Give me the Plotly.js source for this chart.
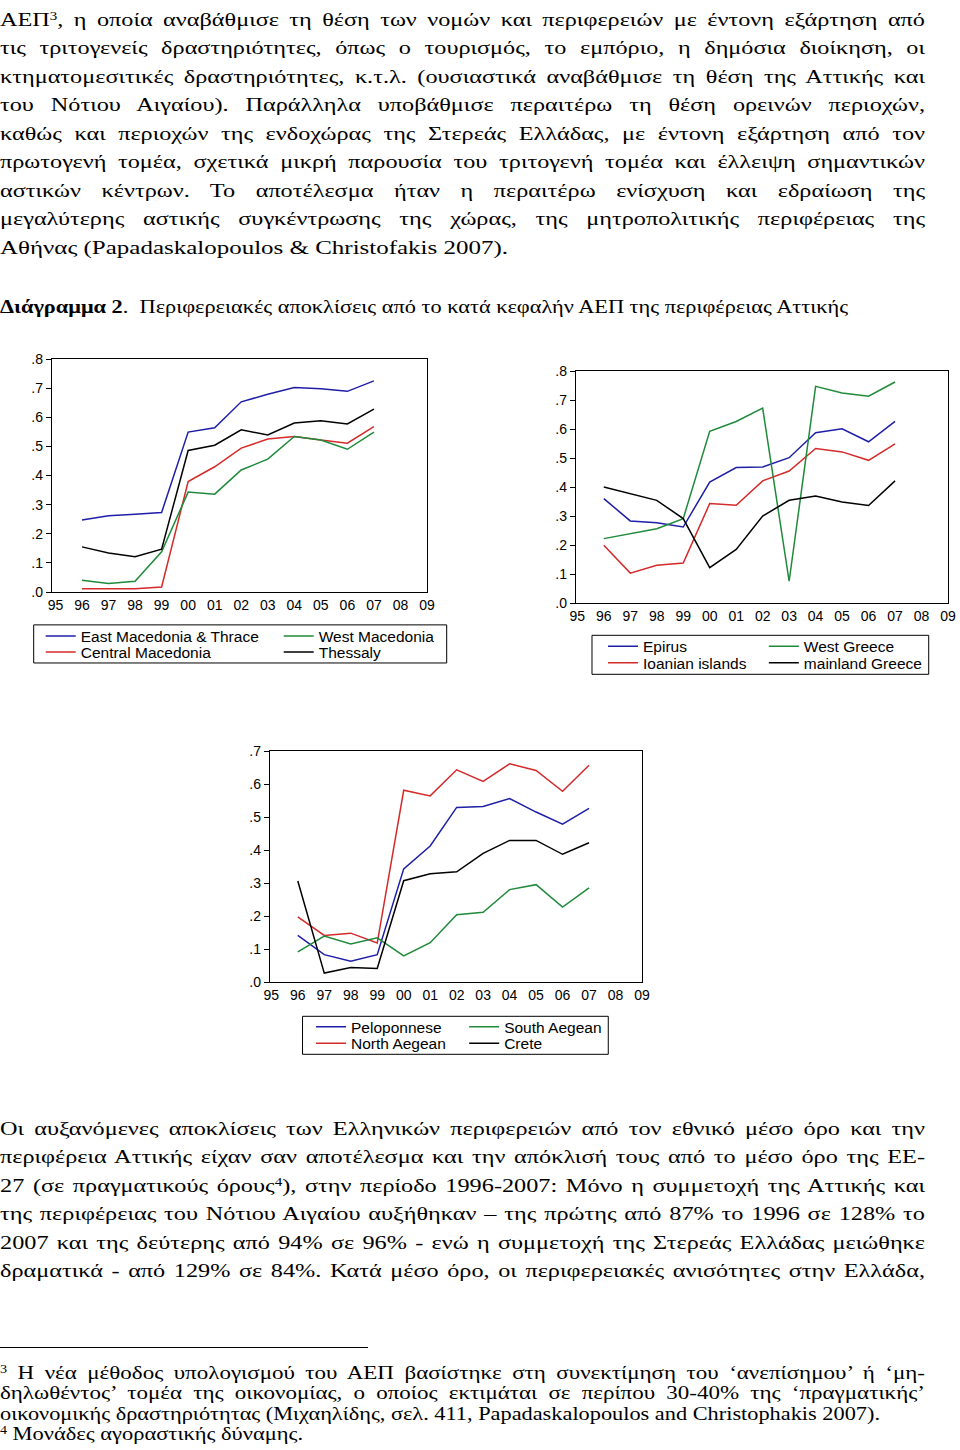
<!DOCTYPE html>
<html>
<head>
<meta charset="utf-8">
<script src="https://cdn.plot.ly/plotly-3.0.1.min.js"></script>
<style>
  html, body { margin:0; padding:0; background:#fff; }
  #page { position:relative; width:960px; height:1450px; overflow:hidden; background:#fff; }
  .ln { position:absolute; left:0; white-space:nowrap; font-family:"Liberation Serif", "Times New Roman", serif; line-height:normal; color:#000; }
  .ln span.in { display:inline-block; transform-origin:0 0; }
  .ln sup { font-size:0.62em; line-height:0; vertical-align:0.5em; }
  .chart { position:absolute; }
</style>
</head>
<body>
<div id="page">
  <div id="c1" class="chart"></div>
  <div id="c2" class="chart"></div>
  <div id="c3" class="chart"></div>
  <div id="rule" style="position:absolute;left:0;top:1347px;width:368px;height:1.3px;background:#000;"></div>
</div>
<script>
// ---------------- DATA ----------------
const years = [1996, 1997, 1998, 1999, 2000, 2001, 2002, 2003, 2004, 2005, 2006, 2007];
const xTickVals = [1995, 1996, 1997, 1998, 1999, 2000, 2001, 2002, 2003, 2004, 2005, 2006, 2007, 2008, 2009];
const xTickText = ["95", "96", "97", "98", "99", "00", "01", "02", "03", "04", "05", "06", "07", "08", "09"];

// Chart 1
const eastMacThrace = [0.247, 0.262, 0.267, 0.273, 0.549, 0.564, 0.653, 0.679, 0.702, 0.698, 0.689, 0.725];
const westMacedonia = [0.040, 0.029, 0.037, 0.138, 0.343, 0.336, 0.419, 0.456, 0.534, 0.522, 0.490, 0.549];
const centralMacedonia = [0.011, 0.011, 0.011, 0.017, 0.379, 0.430, 0.494, 0.525, 0.534, 0.522, 0.511, 0.568];
const thessaly = [0.155, 0.134, 0.121, 0.147, 0.486, 0.504, 0.557, 0.539, 0.580, 0.588, 0.577, 0.628];

// Chart 2
const epirus = [0.360, 0.283, 0.277, 0.262, 0.417, 0.467, 0.469, 0.501, 0.587, 0.601, 0.556, 0.626];
const westGreece = [0.222, 0.239, 0.256, 0.291, 0.592, 0.626, 0.672, 0.075, 0.747, 0.724, 0.713, 0.762];
const ionianIslands = [0.199, 0.103, 0.130, 0.138, 0.343, 0.337, 0.421, 0.455, 0.533, 0.521, 0.492, 0.549];
const mainlandGreece = [0.400, 0.377, 0.354, 0.291, 0.122, 0.185, 0.300, 0.354, 0.369, 0.348, 0.336, 0.421];

// Chart 3
const peloponnese = [0.141, 0.083, 0.063, 0.083, 0.343, 0.412, 0.529, 0.532, 0.556, 0.515, 0.478, 0.526];
const southAegean = [0.091, 0.139, 0.115, 0.134, 0.079, 0.119, 0.204, 0.211, 0.280, 0.295, 0.227, 0.285];
const northAegean = [0.197, 0.141, 0.148, 0.118, 0.581, 0.564, 0.643, 0.608, 0.661, 0.641, 0.578, 0.657];
const crete = [0.306, 0.027, 0.044, 0.041, 0.307, 0.328, 0.334, 0.390, 0.429, 0.429, 0.387, 0.422];

const yTicks8 = [0, 0.1, 0.2, 0.3, 0.4, 0.5, 0.6, 0.7, 0.8];
const yTickText8 = [".0", ".1", ".2", ".3", ".4", ".5", ".6", ".7", ".8"];
const yTicks7 = [0, 0.1, 0.2, 0.3, 0.4, 0.5, 0.6, 0.7];
const yTickText7 = [".0", ".1", ".2", ".3", ".4", ".5", ".6", ".7"];

// ---------------- TEXT ----------------
// cal: natural-width line used to calibrate the glyph widening of justified lines
const textLines = [
  {t:'ΑΕΠ<sup>3</sup>, η οποία αναβάθμισε τη θέση των νομών και περιφερειών με έντονη εξάρτηση από', y:26, fs:19.5, w:925, j:true},
  {t:'τις τριτογενείς δραστηριότητες, όπως ο τουρισμός, το εμπόριο, η δημόσια διοίκηση, οι', y:54.5, fs:19.5, w:925, j:true},
  {t:'κτηματομεσιτικές δραστηριότητες, κ.τ.λ. (ουσιαστικά αναβάθμισε τη θέση της Αττικής και', y:83, fs:19.5, w:925, j:true},
  {t:'του Νότιου Αιγαίου). Παράλληλα υποβάθμισε περαιτέρω τη θέση ορεινών περιοχών,', y:111.5, fs:19.5, w:925, j:true},
  {t:'καθώς και περιοχών της ενδοχώρας της Στερεάς Ελλάδας, με έντονη εξάρτηση από τον', y:140, fs:19.5, w:925, j:true},
  {t:'πρωτογενή τομέα, σχετικά μικρή παρουσία του τριτογενή τομέα και έλλειψη σημαντικών', y:168.5, fs:19.5, w:925, j:true},
  {t:'αστικών κέντρων. Το αποτέλεσμα ήταν η περαιτέρω ενίσχυση και εδραίωση της', y:197, fs:19.5, w:925, j:true},
  {t:'μεγαλύτερης αστικής συγκέντρωσης της χώρας, της μητροπολιτικής περιφέρειας της', y:225.5, fs:19.5, w:925, j:true},
  {t:'Αθήνας (Papadaskalopoulos &amp; Christofakis 2007).', y:254, fs:19.5, w:508, j:false, cal:true},
  {t:'<b>Διάγραμμα 2</b>.&nbsp; Περιφερειακές αποκλίσεις από το κατά κεφαλήν ΑΕΠ της περιφέρειας Αττικής', y:313, fs:18.5, w:848, j:false},
  {t:'Οι αυξανόμενες αποκλίσεις των Ελληνικών περιφερειών από τον εθνικό μέσο όρο και την', y:1135, fs:19.5, w:925, j:true},
  {t:'περιφέρεια Αττικής είχαν σαν αποτέλεσμα και την απόκλισή τους από το μέσο όρο της ΕΕ-', y:1163.5, fs:19.5, w:925, j:true},
  {t:'27 (σε πραγματικούς όρους<sup>4</sup>), στην περίοδο 1996-2007: Μόνο η συμμετοχή της Αττικής και', y:1192, fs:19.5, w:925, j:true},
  {t:'της περιφέρειας του Νότιου Αιγαίου αυξήθηκαν – της πρώτης από 87% το 1996 σε 128% το', y:1220.5, fs:19.5, w:925, j:true},
  {t:'2007 και της δεύτερης από 94% σε 96% - ενώ η συμμετοχή της Στερεάς Ελλάδας μειώθηκε', y:1249, fs:19.5, w:925, j:true},
  {t:'δραματικά - από 129% σε 84%. Κατά μέσο όρο, οι περιφερειακές ανισότητες στην Ελλάδα,', y:1277.5, fs:19.5, w:925, j:true},
  {t:'<sup>3</sup> Η νέα μέθοδος υπολογισμού του ΑΕΠ βασίστηκε στη συνεκτίμηση του ‘ανεπίσημου’ ή ‘μη-', y:1379, fs:18.5, w:925, j:true},
  {t:'δηλωθέντος’ τομέα της οικονομίας, ο οποίος εκτιμάται σε περίπου 30-40% της ‘πραγματικής’', y:1399.5, fs:18.5, w:925, j:true},
  {t:'οικονομικής δραστηριότητας (Μιχαηλίδης, σελ. 411, Papadaskalopoulos and Christophakis 2007).', y:1420, fs:18.5, w:880, j:false, cal:true},
  {t:'<sup>4</sup> Μονάδες αγοραστικής δύναμης.', y:1440, fs:18.5, w:303, j:false}
];

const page = document.getElementById('page');
function makeLine(L) {
  const d = document.createElement('div');
  d.className = 'ln';
  d.style.fontSize = L.fs + 'px';
  d.style.top = (L.y - 0.891 * L.fs) + 'px';
  d.innerHTML = '<span class="in">' + L.t + '</span>';
  page.appendChild(d);
  L.sp = d.firstChild;
  L.nat = L.sp.getBoundingClientRect().width;
}
textLines.forEach(makeLine);
const cals = textLines.filter(L => L.cal).map(L => L.w / L.nat);
const s0 = cals.reduce((a, b) => a + b, 0) / cals.length;
textLines.forEach(L => {
  let s;
  if (L.j) {
    s = s0;
    const n = (L.sp.textContent.match(/ /g) || []).length;
    if (L.nat * s > L.w) { s = L.w / L.nat; }
    else if (n) { L.sp.style.wordSpacing = ((L.w / s - L.nat) / n) + 'px'; }
  } else {
    s = L.w / L.nat;
  }
  L.sp.style.transform = 'scaleX(' + s + ')';
});

// ---------------- CHARTS ----------------
const COL = {blue:'#1e1ea8', red:'#d42a2a', green:'#1f8a3a', black:'#000000'};
const SANS = '"Liberation Sans", Arial, sans-serif';

function makeChart(id, g, series, yTicks, yText, yMax, xMin, legendBox, legendPos) {
  const el = document.getElementById(id);
  el.style.left = g.left + 'px';
  el.style.top = g.top + 'px';
  el.style.width = g.W + 'px';
  el.style.height = g.H + 'px';
  const pw = g.px1 - g.px0, ph = g.py1 - g.py0;
  const PX = ax => (ax - g.px0) / pw;
  const PY = ay => (g.py1 - ay) / ph;
  const legNames = ['legend', 'legend2', 'legend3', 'legend4'];
  const traces = series.map((s, i) => ({
    type:'scatter', mode:'lines', x:years, y:s.y, name:s.name,
    line:{color:s.color, width:1.5}, legend:legNames[i], hoverinfo:'skip'
  }));
  const layout = {
    width:g.W, height:g.H,
    margin:{l:g.px0 - g.left, r:g.left + g.W - g.px1, t:g.py0 - g.top, b:g.top + g.H - g.py1, autoexpand:false},
    paper_bgcolor:'rgba(0,0,0,0)', plot_bgcolor:'#fff',
    font:{family:SANS, size:14, color:'#000'},
    xaxis:{range:[xMin, 2009], tickvals:xTickVals, ticktext:xTickText, showgrid:false, zeroline:false,
           showline:true, mirror:true, linecolor:'#000', linewidth:1.2, ticks:'', tickfont:{family:SANS, size:14}, fixedrange:true},
    yaxis:{range:[0, yMax], tickvals:yTicks, ticktext:yText, showgrid:false, zeroline:false,
           showline:true, mirror:true, linecolor:'#000', linewidth:1.2, ticks:'outside', ticklen:5, tickwidth:1,
           tickcolor:'#000', tickfont:{family:SANS, size:14}, fixedrange:true},
    showlegend:true,
    shapes:[{type:'rect', xref:'paper', yref:'paper',
             x0:PX(legendBox[0]), x1:PX(legendBox[1]), y0:PY(legendBox[3]), y1:PY(legendBox[2]),
             line:{color:'#000', width:1}, fillcolor:'rgba(0,0,0,0)'}]
  };
  legendPos.forEach((p, i) => {
    layout[legNames[i]] = {x:PX(p[0]), y:PY(p[1]), xanchor:'left', yanchor:'middle',
      bgcolor:'rgba(0,0,0,0)', borderwidth:0, font:{family:SANS, size:15.5, color:'#000'}};
  });
  Plotly.newPlot(el, traces, layout, {staticPlot:true, displayModeBar:false});
}

// Chart 1
makeChart('c1',
  {left:0, top:330, W:520, H:350, px0:52.3, px1:427.3, py0:359.3, py1:591.7},
  [{name:'East Macedonia & Thrace', y:eastMacThrace, color:COL.blue},
   {name:'Central Macedonia', y:centralMacedonia, color:COL.red},
   {name:'West Macedonia', y:westMacedonia, color:COL.green},
   {name:'Thessaly', y:thessaly, color:COL.black}],
  yTicks8, yTickText8, 0.8, 1994.87,
  [34, 447, 624.5, 662.5],
  [[41, 636], [41, 652], [279, 636], [279, 652]]
);

// Chart 2
makeChart('c2',
  {left:530, top:340, W:430, H:350, px0:576, px1:948.3, py0:370.7, py1:602.7},
  [{name:'Epirus', y:epirus, color:COL.blue},
   {name:'Ioanian islands', y:ionianIslands, color:COL.red},
   {name:'West Greece', y:westGreece, color:COL.green},
   {name:'mainland Greece', y:mainlandGreece, color:COL.black}],
  yTicks8, yTickText8, 0.8, 1994.95,
  [592, 929, 635, 674],
  [[603, 646.5], [603, 663], [764, 646.5], [764, 663]]
);

// Chart 3
makeChart('c3',
  {left:220, top:720, W:470, H:350, px0:270, px1:641.7, py0:750.7, py1:981.7},
  [{name:'Peloponnese', y:peloponnese, color:COL.blue},
   {name:'North Aegean', y:northAegean, color:COL.red},
   {name:'South Aegean', y:southAegean, color:COL.green},
   {name:'Crete', y:crete, color:COL.black}],
  yTicks7, yTickText7, 0.7, 1994.95,
  [302.5, 608, 1016, 1054],
  [[311, 1027], [311, 1043.5], [464, 1027], [464, 1043.5]]
);
</script>
</body>
</html>
